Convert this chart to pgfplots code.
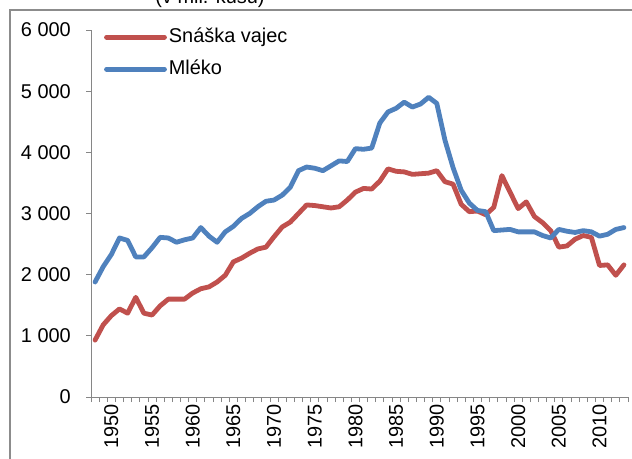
\documentclass[border=0pt]{standalone}
\usepackage{fontspec}
\setmainfont{Liberation Sans}
\usepackage{pgfplots}
\pgfplotsset{compat=1.18}
\usepackage{pgfplotstable}
\definecolor{eggred}{HTML}{C0504D}
\definecolor{milkblue}{HTML}{4F81BD}
\definecolor{axgray}{HTML}{868686}
\definecolor{framegray}{HTML}{8C8C8C}

\pgfplotstableread{
year egg milk
1948 930 1880
1949 1180 2130
1950 1330 2330
1951 1440 2600
1952 1370 2560
1953 1630 2290
1954 1370 2290
1955 1340 2440
1956 1490 2610
1957 1600 2600
1958 1600 2530
1959 1600 2570
1960 1700 2600
1961 1770 2770
1962 1800 2630
1963 1880 2530
1964 1990 2700
1965 2210 2790
1966 2270 2920
1967 2350 3000
1968 2420 3110
1969 2450 3200
1970 2620 3220
1971 2780 3300
1972 2860 3430
1973 3000 3700
1974 3140 3760
1975 3130 3740
1976 3110 3700
1977 3090 3780
1978 3110 3860
1979 3220 3850
1980 3350 4060
1981 3410 4050
1982 3400 4070
1983 3530 4480
1984 3730 4660
1985 3690 4720
1986 3680 4820
1987 3640 4740
1988 3650 4790
1989 3660 4900
1990 3700 4800
1991 3520 4200
1992 3480 3750
1993 3150 3380
1994 3030 3170
1995 3040 3050
1996 2980 3030
1997 3100 2720
1998 3620 2730
1999 3350 2740
2000 3080 2700
2001 3190 2700
2002 2950 2700
2003 2850 2640
2004 2720 2600
2005 2450 2740
2006 2470 2710
2007 2580 2690
2008 2640 2720
2009 2610 2700
2010 2150 2630
2011 2160 2660
2012 1990 2740
2013 2160 2770
}\datatable

\begin{document}
\begin{tikzpicture}
\path[use as bounding box] (0bp,0bp) rectangle (632bp,459bp);
\clip (0bp,0bp) rectangle (632bp,459bp);
\draw[framegray, line width=2bp] (10bp,-10bp) -- (10bp,449bp) -- (660bp,449bp);
\node[anchor=base, font=\fontsize{20}{24}\selectfont, inner sep=0pt] at (210bp,455bp) {(v mil. kusů)};
\begin{axis}[
  at={(91bp,62bp)}, anchor=south west,
  scale only axis, width=537bp, height=367bp,
  xmin=1947.5, xmax=2013.5, ymin=0, ymax=6000,
  axis lines*=left,
  axis line style={axgray, line width=0.9bp},
  tick align=outside,
  tick style={axgray, line width=0.9bp},
  xtick={1950,1955,...,2010},
  xticklabels={1950,1955,1960,1965,1970,1975,1980,1985,1990,1995,2000,2005,2010},
  major x tick style={draw=none},
  minor xtick={1947.5,1948.5,...,2013.6},
  minor tick length=5bp,
  major tick length=5bp,
  ytick={0,1000,...,6000},
  yticklabels={0,{1 000},{2 000},{3 000},{4 000},{5 000},{6 000}},
  ticklabel style={font=\fontsize{20}{24}\selectfont, text=black},
  xticklabel style={rotate=90, anchor=east, inner sep=0pt, xshift=-2bp},
  yticklabel style={anchor=east, inner sep=0pt, xshift=-15bp},
  legend style={draw=none, fill=none, at={(0.024,1.0136)}, anchor=north west,
    font=\fontsize{20}{24}\selectfont, inner xsep=0pt, inner ysep=0pt,
    row sep=8bp, nodes={text height=15bp, text depth=5bp, inner sep=2bp}},
  legend cell align=left,
  legend image code/.code={\draw[#1, line width=4.8bp] (0bp,0bp) -- (58bp,0bp);},
  clip=false,
]
\addplot[eggred, line width=4.8bp, line join=round, line cap=round, no marks] table[x=year, y=egg] {\datatable};
\addlegendentry{Snáška vajec}
\addplot[milkblue, line width=4.8bp, line join=round, line cap=round, no marks] table[x=year, y=milk] {\datatable};
\addlegendentry{Mléko}
\end{axis}
\end{tikzpicture}
\end{document}
